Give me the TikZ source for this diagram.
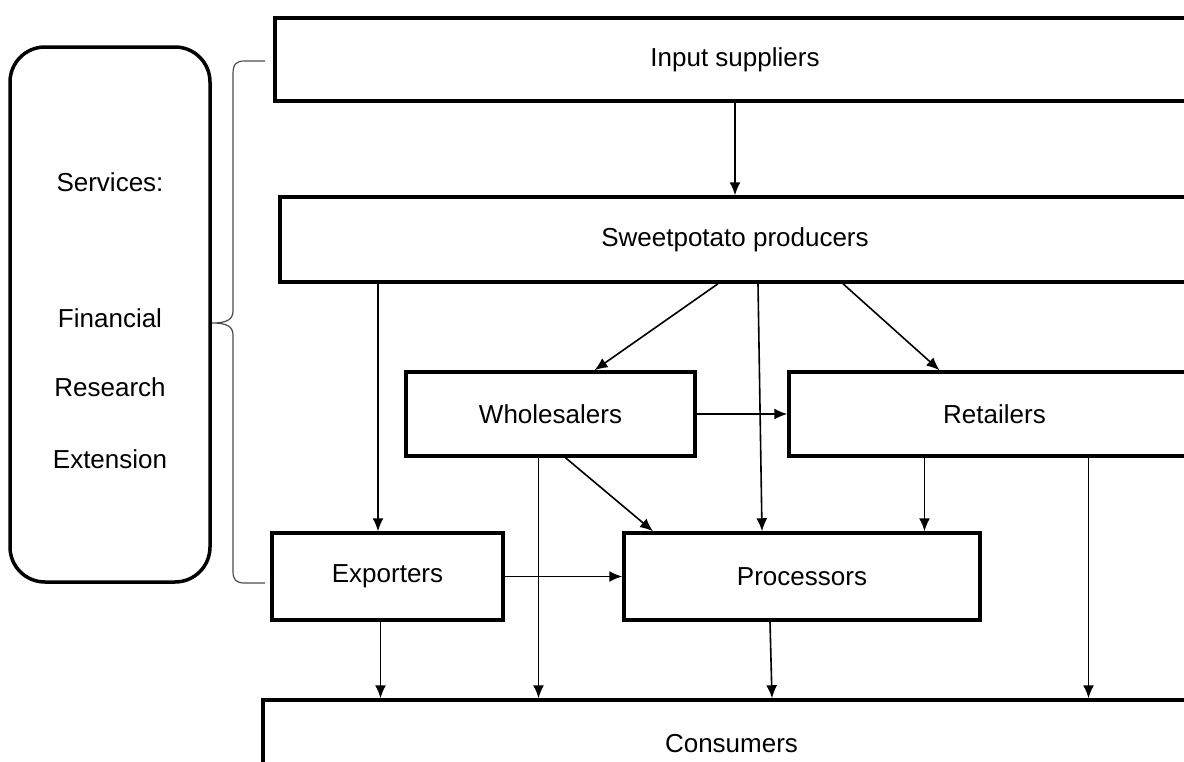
\documentclass[tikz,border=0pt]{standalone}
\usepackage{fontspec}
\newfontfamily\chartfont{Liberation Sans}
\usetikzlibrary{arrows.meta}

\tikzset{
    box/.style={draw, line width=3.5pt, inner sep=0pt, font={\chartfont\fontsize{26}{30}\selectfont}},
    lbl/.style={inner sep=0pt, font={\chartfont\fontsize{26}{30}\selectfont}},
    flow/.style={-{Latex[length=13pt,width=11pt]}, line width=1.6pt},
    bracket/.style={draw=gray!60!black, line width=1.2pt},
}

\begin{document}
\begin{tikzpicture}[x=1pt, y=-1pt]
    \clip (0,0) rectangle (1184,761);
    \fill[white] (0,0) rectangle (1184,761);

    % Chain actors
    \node[box, minimum width=920, minimum height=83] (inp) at (735,59.5) {Input suppliers};
    \node[box, minimum width=910, minimum height=85] (prod) at (735,239.5) {Sweetpotato producers};
    \node[box, minimum width=289, minimum height=84] (whole) at (550.5,414) {Wholesalers};
    \node[box, minimum width=411, minimum height=84] (ret) at (994.5,414) {Retailers};
    \node[box, minimum width=231, minimum height=87] (exp) at (387.5,576.5) {Exporters};
    \node[box, minimum width=356, minimum height=87] (proc) at (802,576.5) {Processors};
    \node[box, minimum width=937, minimum height=88] (cons) at (731.5,744) {Consumers};

    % Services
    \node[box, rounded corners=35pt, minimum width=200, minimum height=535] (serv) at (110,314.5) {};
    \node[lbl] (servt) at (110,182) {Services:};
    \node[lbl] (fin) at (110,318) {Financial};
    \node[lbl] (res) at (110,387) {Research};
    \node[lbl] (ext) at (110,459) {Extension};

    % Brace
    \draw[bracket] (265,61) -- (245,61) .. controls (236,61) and (233,64) .. (233,74)
        -- (233,311) .. controls (233,320) and (226,323) .. (212,323)
        .. controls (226,323) and (233,326) .. (233,335)
        -- (233,571) .. controls (233,580) and (236,583) .. (245,583) -- (265,583);

    % Flows
    \draw[flow] (inp.south) -- (prod.north);
    \draw[flow] (prod.south -| 378,0) -- (exp.north -| 378,0);
    \draw[flow] ([xshift=-17pt]prod.south) -- ([xshift=44pt]whole.north);
    \draw[flow] ([xshift=23pt]prod.south) -- ([xshift=-40pt]proc.north);
    \draw[flow] ([xshift=108pt]prod.south) -- ([xshift=-55pt]ret.north);
    \draw[flow] (whole.east) -- (whole.east -| ret.west);
    \draw[flow] ([xshift=-12pt]whole.south) -- ([xshift=-12pt]whole.south |- cons.north);
    \draw[flow] ([xshift=15pt]whole.south) -- ([xshift=-149pt]proc.north);
    \draw[flow] ([xshift=-70pt]ret.south) -- ([xshift=-70pt]ret.south |- proc.north);
    \draw[flow] ([xshift=94pt]ret.south) -- ([xshift=94pt]ret.south |- cons.north);
    \draw[flow] (exp.east) -- (exp.east -| proc.west);
    \draw[flow] ([xshift=-7pt]exp.south) -- ([xshift=-7pt]exp.south |- cons.north);
    \draw[flow] ([xshift=-32pt]proc.south) -- ([xshift=-30pt]proc.south |- cons.north);

\end{tikzpicture}
\end{document}
